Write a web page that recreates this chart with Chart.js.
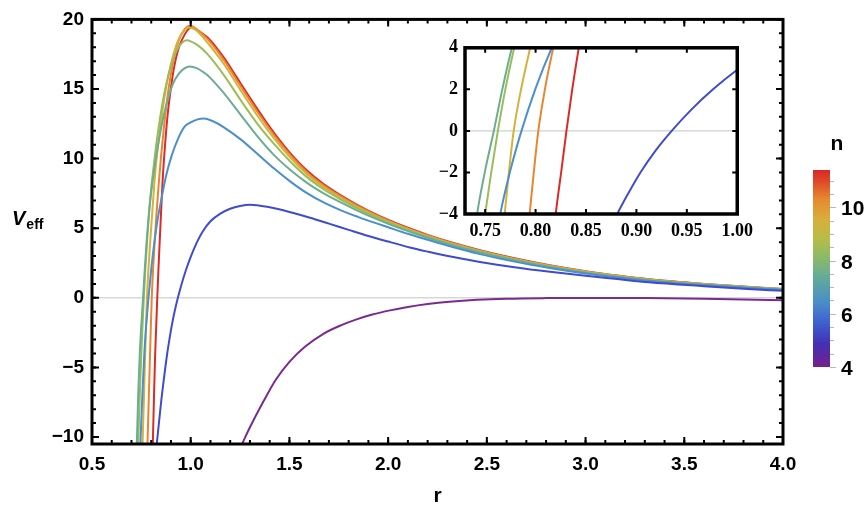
<!DOCTYPE html>
<html>
<head>
<meta charset="utf-8">
<title>V_eff vs r</title>
<script src="https://cdn.jsdelivr.net/npm/chart.js@4.4.1/dist/chart.umd.min.js"></script>
<style>
  body { margin: 0; background: #fff; }
  #wrap { position: relative; width: 868px; height: 511px; overflow: hidden; font-family: "Liberation Sans", Arial, sans-serif; }
  #mainChart { position: absolute; left: 0; top: 0; }
  #insetChart { position: absolute; left: 405px; top: 30px; }
  #ylab { position: absolute; left: 12px; top: 208px; font: italic bold 20px/20px "Liberation Sans", Arial, sans-serif; color: #000; }
  #ylab span { font-style: normal; font-size: 14px; position: relative; top: 4px; left: 1px; }
  #barTitle { position: absolute; left: 822px; top: 133px; width: 30px; text-align: center; font: bold 21px/20px "Liberation Sans", Arial, sans-serif; }
  #bar { position: absolute; left: 813px; top: 170px; width: 17px; height: 197px;
    background: linear-gradient(to top, #761f8b 0%, #4331b5 12%, #3e5ed0 22%, #4a8ec8 33%, #62a99c 45%, #88ba6b 55%, #b7bc48 65%, #d7ae3b 75%, #e58a30 85%, #de4a27 94%, #d8282a 100%); }
  .btick { position: absolute; height: 1px; background: #b8b8b8; }
  .blab { position: absolute; left: 841px; font: bold 21px/21px "Liberation Sans", Arial, sans-serif; transform: translateY(-50%); }
</style>
</head>
<body>
<div id="wrap">
  <canvas id="mainChart" width="868" height="511"></canvas>
  <canvas id="insetChart" width="355" height="220"></canvas>
  <div id="ylab">V<span>eff</span></div>
  <div id="barTitle">n</div>
  <div id="bar"></div>
</div>
<script>
// curve parameter n and the colour used for each curve
const nValues = [4, 5, 6, 7, 8, 9, 10, 11];
const lineColors = ['#7b2a8f', '#3f4ccf', '#4b8fcc', '#6aae8f', '#99be59', '#d4b23c', '#e8862f', '#dc2a26'];

// values: r and V_eff for each n
const r4 = [1.26, 1.30, 1.37, 1.43, 1.50, 1.58, 1.67, 1.76, 1.84, 1.92, 2.01, 2.10, 2.20, 2.31, 2.45, 2.60, 2.80, 3.00, 3.30, 3.60, 4.00];
const v4 = [-10.5, -9.3, -7.4, -5.9, -4.6, -3.5, -2.6, -1.98, -1.55, -1.2, -0.9, -0.66, -0.45, -0.28, -0.14, -0.06, -0.02, -0.01, -0.02, -0.06, -0.17];

const r5 = [0.828, 0.85, 0.867, 0.881, 0.892, 0.904, 0.919, 0.935, 0.954, 0.976, 1.0, 1.03, 1.06, 1.1, 1.15, 1.2, 1.25, 1.3, 1.4, 1.5, 1.6, 1.7, 1.8, 1.9, 2.0, 2.11, 2.2, 2.31, 2.465, 2.64, 2.82, 3.0, 3.16, 3.32, 3.6, 3.8, 4.0];
const v5 = [-10.5, -7.5, -5.5, -4.0, -3.0, -2.0, -0.95, 0, 1.0, 2.0, 2.94, 3.95, 4.75, 5.5, 6.05, 6.4, 6.6, 6.69, 6.5, 6.17, 5.77, 5.33, 4.88, 4.44, 4.04, 3.62, 3.32, 2.98, 2.58, 2.2, 1.87, 1.58, 1.35, 1.12, 0.84, 0.66, 0.5];

const r6 = [0.745, 0.755, 0.765, 0.775, 0.786, 0.80, 0.816, 0.832, 0.851, 0.875, 0.902, 0.935, 0.969, 1.0, 1.035, 1.067, 1.11, 1.168, 1.253, 1.337, 1.421, 1.505, 1.589, 1.673, 1.758, 1.85, 1.93, 2.01, 2.1, 2.2, 2.313, 2.465, 2.64, 2.818, 3.0, 3.16, 3.323, 3.6, 3.8, 4.0];
const v6 = [-10.5, -7.0, -4.0, -1.9, 0, 2.05, 4.0, 5.6, 7.05, 8.75, 10.14, 11.4, 12.29, 12.6, 12.82, 12.88, 12.7, 12.25, 11.38, 10.35, 9.3, 8.35, 7.52, 6.85, 6.3, 5.8, 5.4, 5.02, 4.6, 4.17, 3.7, 3.14, 2.6, 2.14, 1.74, 1.46, 1.21, 0.9, 0.73, 0.57];

const r7 = [0.727, 0.734, 0.742, 0.750, 0.7586, 0.767, 0.7765, 0.79, 0.80, 0.818, 0.84, 0.86, 0.885, 0.911, 0.94, 0.97, 0.995, 1.03, 1.06, 1.084, 1.125, 1.168, 1.253, 1.337, 1.421, 1.505, 1.589, 1.673, 1.758, 1.85, 1.93, 2.01, 2.1, 2.2, 2.313, 2.465, 2.64, 2.818, 3.0, 3.16, 3.323, 3.6, 3.8, 4.0];
const v7 = [-10.5, -7.0, -4.0, -1.9, 0, 2.0, 4.0, 6.3, 7.6, 9.5, 11.4, 12.9, 14.3, 15.4, 16.1, 16.5, 16.62, 16.5, 16.25, 16.0, 15.4, 14.7, 13.15, 11.62, 10.27, 9.18, 8.26, 7.51, 6.88, 6.23, 5.72, 5.26, 4.79, 4.31, 3.82, 3.25, 2.7, 2.22, 1.81, 1.51, 1.25, 0.94, 0.76, 0.6];

const r8 = [0.734, 0.742, 0.750, 0.756, 0.7626, 0.770, 0.7788, 0.79, 0.80, 0.812, 0.828, 0.845, 0.865, 0.887, 0.91, 0.93, 0.955, 0.98, 1.0, 1.04, 1.084, 1.168, 1.253, 1.337, 1.421, 1.505, 1.589, 1.673, 1.758, 1.85, 1.93, 2.01, 2.1, 2.2, 2.313, 2.465, 2.64, 2.818, 3.0, 3.16, 3.323, 3.6, 3.8, 4.0];
const v8 = [-10.5, -7.0, -4.0, -2.0, 0, 2.0, 4.0, 6.3, 7.9, 9.4, 11.3, 12.95, 14.6, 16.0, 17.1, 17.8, 18.3, 18.5, 18.42, 18.1, 17.52, 16.0, 14.2, 12.52, 11.07, 9.78, 8.67, 7.8, 7.08, 6.38, 5.84, 5.36, 4.87, 4.38, 3.89, 3.32, 2.75, 2.26, 1.84, 1.54, 1.28, 0.96, 0.775, 0.61];

const r9 = [0.756, 0.7635, 0.7694, 0.7735, 0.7783, 0.786, 0.7947, 0.808, 0.823, 0.84, 0.857, 0.878, 0.899, 0.92, 0.941, 0.965, 0.99, 1.02, 1.05, 1.084, 1.168, 1.253, 1.337, 1.421, 1.505, 1.589, 1.673, 1.758, 1.85, 1.93, 2.01, 2.1, 2.2, 2.313, 2.465, 2.64, 2.818, 3.0, 3.16, 3.323, 3.6, 3.8, 4.0];
const v9 = [-10.5, -7.0, -4.0, -2.0, 0, 2.1, 4.0, 6.7, 9.4, 11.6, 13.45, 15.3, 16.75, 17.85, 18.65, 19.15, 19.42, 19.3, 18.92, 18.35, 16.8, 14.9, 13.1, 11.47, 10.05, 8.87, 7.95, 7.2, 6.48, 5.92, 5.43, 4.93, 4.43, 3.93, 3.35, 2.78, 2.29, 1.865, 1.56, 1.295, 0.97, 0.785, 0.62];

const r10 = [0.781, 0.788, 0.7941, 0.798, 0.8027, 0.81, 0.8175, 0.827, 0.838, 0.85, 0.865, 0.882, 0.9, 0.92, 0.94, 0.962, 0.985, 1.0, 1.03, 1.084, 1.168, 1.253, 1.337, 1.421, 1.505, 1.589, 1.673, 1.758, 1.85, 1.93, 2.01, 2.1, 2.2, 2.313, 2.465, 2.64, 2.818, 3.0, 3.16, 3.323, 3.6, 3.8, 4.0];
const v10 = [-10.5, -7.0, -4.0, -2.1, 0, 2.2, 4.0, 6.1, 8.2, 10.2, 12.35, 14.4, 16.1, 17.5, 18.5, 19.15, 19.5, 19.55, 19.3, 18.6, 17.08, 15.2, 13.38, 11.71, 10.25, 9.03, 8.08, 7.3, 6.56, 5.99, 5.49, 4.985, 4.48, 3.975, 3.39, 2.815, 2.32, 1.89, 1.585, 1.315, 0.99, 0.8, 0.63];

const r11 = [0.808, 0.814, 0.820, 0.8255, 0.8306, 0.8365, 0.8428, 0.850, 0.857, 0.868, 0.882, 0.898, 0.916, 0.936, 0.958, 0.98, 1.0, 1.04, 1.084, 1.126, 1.168, 1.21, 1.253, 1.295, 1.337, 1.379, 1.421, 1.463, 1.505, 1.589, 1.673, 1.758, 1.85, 1.93, 2.01, 2.1, 2.2, 2.313, 2.465, 2.64, 2.818, 3.0, 3.16, 3.323, 3.6, 3.8, 4.0];
const v11 = [-10.5, -7.1, -4.0, -1.95, 0, 2.05, 4.0, 6.2, 8.24, 10.6, 13.0, 14.9, 16.57, 17.8, 18.6, 19.15, 19.4, 19.15, 18.71, 18.05, 17.25, 16.35, 15.4, 14.47, 13.57, 12.7, 11.87, 11.1, 10.38, 9.14, 8.17, 7.38, 6.63, 6.05, 5.54, 5.03, 4.52, 4.01, 3.42, 2.84, 2.34, 1.91, 1.6, 1.33, 1.0, 0.81, 0.64];

// tick labels
const mainXTicks = [0.5, 1.0, 1.5, 2.0, 2.5, 3.0, 3.5, 4.0];
const mainYTicks = [-10, -5, 0, 5, 10, 15, 20];
const insetXTicks = [0.75, 0.80, 0.85, 0.90, 0.95, 1.00];
const insetYTicks = [-4, -2, 0, 2, 4];
const barTicks = [4, 6, 8, 10];

const rLists = [r4, r5, r6, r7, r8, r9, r10, r11];
const vLists = [v4, v5, v6, v7, v8, v9, v10, v11];

function makeDatasets() {
  return nValues.map((n, i) => ({
    label: 'n = ' + n,
    data: rLists[i].map((r, j) => ({ x: r, y: vLists[i][j] })),
    borderColor: lineColors[i],
    borderWidth: 2,
    pointRadius: 0,
    fill: false,
    cubicInterpolationMode: 'monotone'
  }));
}

const minus = v => (v < 0 ? '\u2212' + Math.abs(v) : String(v));
const range = (a, b, step) => {
  const out = [];
  for (let v = a; v <= b + 1e-9; v += step) out.push(Math.round(v * 1000) / 1000);
  return out;
};

// Mathematica-like frame: gray zero line, black box with inward ticks
const framePlugin = {
  id: 'frame',
  beforeDatasetsDraw(chart, args, o) {
    const { ctx, chartArea: a, scales } = chart;
    const y0 = scales.y.getPixelForValue(0);
    ctx.save();
    ctx.strokeStyle = '#c4c4c4';
    ctx.lineWidth = 1;
    ctx.beginPath();
    ctx.moveTo(a.left, y0);
    ctx.lineTo(a.right, y0);
    ctx.stroke();
    ctx.restore();
  },
  afterDatasetsDraw(chart, args, o) {
    const { ctx, chartArea: a, scales } = chart;
    ctx.save();
    ctx.strokeStyle = '#000';
    ctx.lineWidth = o.tickWidth;
    const xt = (vals, len) => vals.forEach(v => {
      const px = scales.x.getPixelForValue(v);
      ctx.beginPath();
      ctx.moveTo(px, a.bottom); ctx.lineTo(px, a.bottom - len);
      ctx.moveTo(px, a.top); ctx.lineTo(px, a.top + len);
      ctx.stroke();
    });
    const yt = (vals, len) => vals.forEach(v => {
      const py = scales.y.getPixelForValue(v);
      ctx.beginPath();
      ctx.moveTo(a.left, py); ctx.lineTo(a.left + len, py);
      ctx.moveTo(a.right, py); ctx.lineTo(a.right - len, py);
      ctx.stroke();
    });
    xt(o.xMinor, o.minorLen);
    yt(o.yMinor, o.minorLen);
    xt(o.xMajor, o.majorLen);
    yt(o.yMajor, o.majorLen);
    ctx.lineWidth = o.frameWidth;
    ctx.strokeRect(a.left, a.top, a.right - a.left, a.bottom - a.top);
    ctx.restore();
  }
};

const sansBold = { family: '"Liberation Sans", Arial, sans-serif', size: 19, weight: 'bold' };
const serifBold = { family: '"Liberation Serif", "Times New Roman", serif', size: 18, weight: 'bold' };

// main chart
new Chart(document.getElementById('mainChart'), {
  type: 'line',
  data: { datasets: makeDatasets() },
  options: {
    responsive: false,
    animation: false,
    layout: { padding: { top: 17, right: 85, left: 0, bottom: 0 } },
    scales: {
      x: {
        type: 'linear', min: 0.5, max: 4,
        afterBuildTicks: s => { s.ticks = mainXTicks.map(v => ({ value: v })); },
        afterFit: s => { s.height = 67; },
        grid: { display: false, drawTicks: false },
        border: { display: false },
        ticks: { color: '#000', font: sansBold, padding: 9, maxRotation: 0, callback: v => Number(v).toFixed(1) },
        title: { display: true, text: 'r', color: '#000', font: { family: '"Liberation Sans", Arial, sans-serif', size: 21, weight: 'bold' }, padding: { top: 0, bottom: 2 } }
      },
      y: {
        type: 'linear', min: -10.5, max: 20,
        afterBuildTicks: s => { s.ticks = mainYTicks.map(v => ({ value: v })); },
        afterFit: s => { s.width = 92; },
        grid: { display: false, drawTicks: false },
        border: { display: false },
        ticks: { color: '#000', font: sansBold, padding: 8, callback: v => minus(v) }
      }
    },
    plugins: {
      legend: { display: false },
      tooltip: { enabled: false },
      frame: {
        xMajor: mainXTicks, yMajor: mainYTicks,
        xMinor: range(0.5, 4, 0.1), yMinor: range(-10, 20, 1),
        majorLen: 7, minorLen: 4, tickWidth: 2, frameWidth: 3
      }
    }
  },
  plugins: [framePlugin]
});

// inset chart (zoom on the zero crossings)
new Chart(document.getElementById('insetChart'), {
  type: 'line',
  data: { datasets: makeDatasets() },
  options: {
    responsive: false,
    animation: false,
    layout: { padding: { top: 14, right: 20, left: 0, bottom: 0 } },
    scales: {
      x: {
        type: 'linear', min: 0.73, max: 1.0,
        afterBuildTicks: s => { s.ticks = insetXTicks.map(v => ({ value: v })); },
        afterFit: s => { s.height = 36; },
        grid: { display: false, drawTicks: false },
        border: { display: false },
        ticks: { color: '#000', font: serifBold, padding: 7, maxRotation: 0, callback: v => Number(v).toFixed(2) }
      },
      y: {
        type: 'linear', min: -4, max: 4,
        afterBuildTicks: s => { s.ticks = insetYTicks.map(v => ({ value: v })); },
        afterFit: s => { s.width = 60; },
        grid: { display: false, drawTicks: false },
        border: { display: false },
        ticks: { color: '#000', font: serifBold, padding: 7, callback: v => minus(v) }
      }
    },
    plugins: {
      legend: { display: false },
      tooltip: { enabled: false },
      frame: {
        xMajor: insetXTicks, yMajor: insetYTicks,
        xMinor: [], yMinor: [],
        majorLen: 5, minorLen: 3, tickWidth: 2, frameWidth: 3.5
      }
    }
  },
  plugins: [framePlugin]
});

// colour bar legend for n
const wrap = document.getElementById('wrap');
const barMin = 4, barMax = 11.4;
const barTop = 170, barH = 197, barRight = 830;
const barY = v => barTop + barH * (barMax - v) / (barMax - barMin);
range(4, 11, 0.5).forEach(v => {
  const t = document.createElement('div');
  t.className = 'btick';
  const major = barTicks.includes(v);
  t.style.left = barRight + 'px';
  t.style.width = (major ? 6 : 4) + 'px';
  t.style.top = Math.round(barY(v)) + 'px';
  wrap.appendChild(t);
});
barTicks.forEach(v => {
  const l = document.createElement('div');
  l.className = 'blab';
  l.textContent = String(v);
  l.style.top = barY(v) + 'px';
  wrap.appendChild(l);
});
</script>
</body>
</html>
